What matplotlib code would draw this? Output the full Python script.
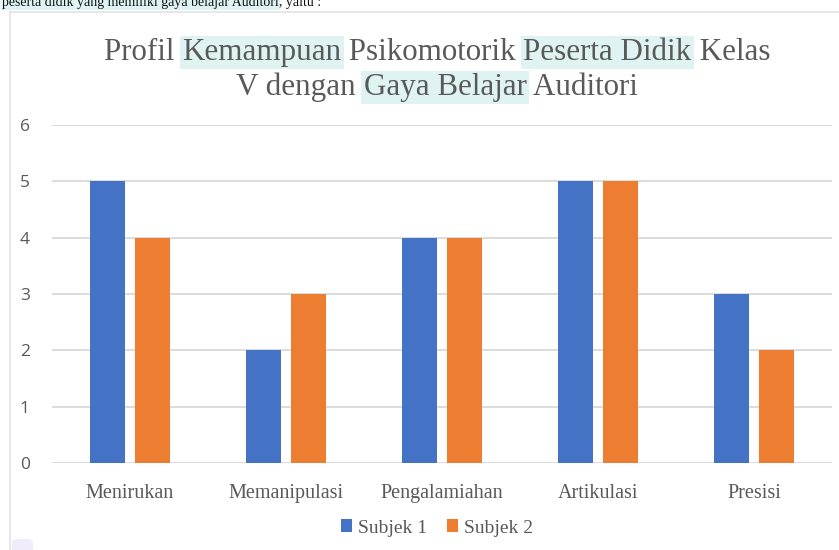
import matplotlib
matplotlib.use("Agg")
import matplotlib.pyplot as plt
import numpy as np
from matplotlib.lines import Line2D
from matplotlib.patches import FancyBboxPatch

# data
kategori = ["Menirukan", "Memanipulasi", "Pengalamiahan", "Artikulasi", "Presisi"]
subjek_1 = [5, 2, 4, 5, 3]
subjek_2 = [4, 3, 4, 5, 2]
label_seri = ["Subjek 1", "Subjek 2"]

# title, split into pieces; True = highlighted
judul = [
    [("Profil ", False), ("Kemampuan", True), (" Psikomotorik ", False),
     ("Peserta Didik", True), (" Kelas", False)],
    [("V dengan ", False), ("Gaya Belajar", True), (" Auditori", False)],
]
teks_atas = [("peserta didik yang memiliki gaya belajar Auditori", True), (", yaitu :", False)]

biru = "#4472C4"
oranye = "#ED7D31"
abu = "#595959"
sorot = "#dff3f3"
serif = "Liberation Serif"
plt.rcParams["font.family"] = serif

fig = plt.figure(figsize=(8.39, 5.5), dpi=100)
W, H = 839, 550
renderer = fig.canvas.get_renderer()


def tulis_baris(potongan, x0, yb, ukuran, warna, tengah=False):
    lebar_potong = []
    for teks, _ in potongan:
        t = fig.text(0, 0, teks, fontsize=ukuran)
        lebar_potong.append(t.get_window_extent(renderer).width)
        t.remove()
    xs = x0 - sum(lebar_potong) / 2 if tengah else x0
    for (teks, hl), w in zip(potongan, lebar_potong):
        kw = {}
        if hl:
            kw["bbox"] = dict(boxstyle="square,pad=0.08", fc=sorot, ec="none")
        fig.text(xs / W, yb, teks, fontsize=ukuran, color=warna,
                 ha="left", va="baseline", **kw)
        xs += w


# document frame lines around the chart
fig.add_artist(Line2D([10 / W, 10 / W], [0, 1 - 12 / H], color="#e3e3e3", lw=1.2))
fig.add_artist(Line2D([10 / W, 1], [1 - 12 / H, 1 - 12 / H], color="#e3e3e3", lw=1.2))
# small lavender tab at the bottom-left of the screenshot
fig.add_artist(FancyBboxPatch((12 / W, -4 / H), 21 / W, 15 / H,
                              boxstyle="round,pad=0,rounding_size=0.006",
                              fc="#f1ecfb", ec="none", transform=fig.transFigure))

# the line of document text above the chart, cut at the top edge as in the screenshot
tulis_baris(teks_atas, 2, 1 - 6 / H, 10, "#111111")

ax = fig.add_axes([52 / W, 1 - 463 / H, 780 / W, 338 / H])
x = np.arange(len(kategori))
lebar = 0.225
ax.bar(x - 0.145, subjek_1, lebar, color=biru, label=label_seri[0], zorder=3)
ax.bar(x + 0.145, subjek_2, lebar, color=oranye, label=label_seri[1], zorder=3)

ax.set_xlim(-0.5, len(kategori) - 0.5)
ax.set_ylim(0, 6)
ax.set_yticks(range(0, 7))
ax.grid(axis="y", color="#d9d9d9", lw=1.3, zorder=0)
ax.set_axisbelow(True)
for s in ax.spines.values():
    s.set_visible(False)
ax.tick_params(length=0)
ax.set_xticks(x)
ax.set_xticklabels(kategori, fontsize=14.5, color=abu)
ax.tick_params(axis="x", pad=15)
ax.tick_params(axis="y", pad=16)
for t in ax.get_yticklabels():
    t.set_family("Open Sans")
    t.set_fontsize(12.5)
    t.set_color(abu)

leg = fig.legend(loc="center", bbox_to_anchor=(437 / W, 1 - 528 / H), ncol=2,
                 frameon=False, handlelength=0.6, handleheight=0.6,
                 handletextpad=0.3, columnspacing=1.0, fontsize=14)
for t in leg.get_texts():
    t.set_color(abu)

# title with highlighted words
tulis_baris(judul[0], 437, 1 - 60 / H, 22.3, abu, tengah=True)
tulis_baris(judul[1], 437, 1 - 95 / H, 22.3, abu, tengah=True)

fig.savefig("out.png", dpi=100)
